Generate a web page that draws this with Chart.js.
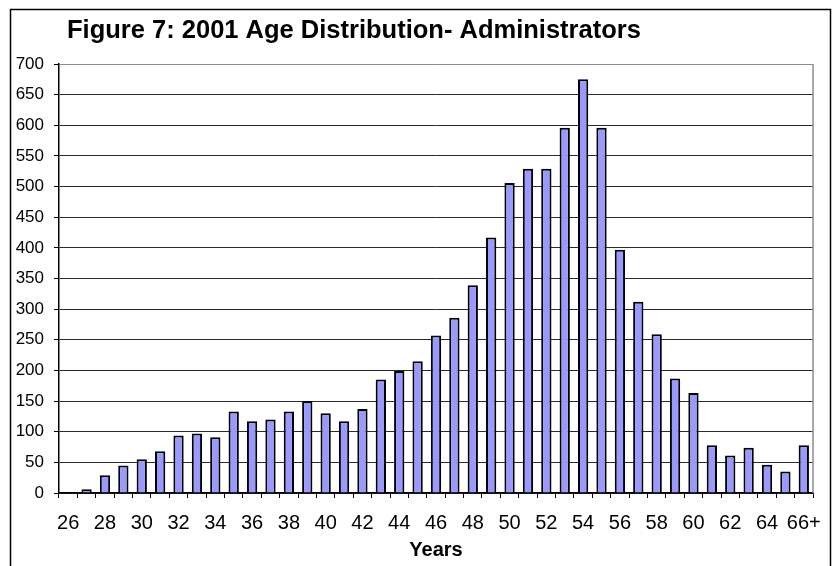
<!DOCTYPE html>
<html>
<head>
<meta charset="utf-8">
<script src="https://cdn.jsdelivr.net/npm/chart.js@4"></script>
<style>
  html, body { margin: 0; padding: 0; background: #fff; }
  #wrap { width: 837px; height: 566px; }
</style>
</head>
<body>
<div id="wrap"><canvas id="ageChart" width="837" height="566"></canvas></div>
<script>
// Figure 7 - 2001 age distribution, administrators
const chartTitle = 'Figure 7: 2001 Age Distribution- Administrators';
const xTitle = 'Years';

const ages = ['26','27','28','29','30','31','32','33','34','35',
              '36','37','38','39','40','41','42','43','44','45',
              '46','47','48','49','50','51','52','53','54','55',
              '56','57','58','59','60','61','62','63','64','65','66+'];

const counts = [0, 6, 29, 45, 55, 68, 94, 97, 91, 133,
                117, 120, 133, 150, 130, 117, 137, 185, 199, 215,
                257, 286, 339, 417, 506, 529, 529, 596, 675, 596,
                397, 312, 259, 187, 163, 78, 61, 74, 46, 35, 78];

const yMax = 700;
const yStep = 50;

const FONT = "'Liberation Sans', Arial, sans-serif";

// outer frame, plot border and the title
const frame = {
    id: 'frame',
    beforeDraw(chart) {
        const ctx = chart.ctx;
        ctx.save();
        ctx.fillStyle = '#fff';
        ctx.fillRect(0, 0, chart.width, chart.height);
        ctx.strokeStyle = '#000';
        ctx.lineWidth = 1.5;
        ctx.strokeRect(10.5, 9.5, 820, 620);
        ctx.restore();
    },
    beforeDatasetsDraw(chart) {
        const a = chart.chartArea;
        const ctx = chart.ctx;
        ctx.save();
        ctx.strokeStyle = '#8c8c8c';
        ctx.lineWidth = 1.5;
        ctx.beginPath();
        ctx.moveTo(a.right, a.top);
        ctx.lineTo(a.right, a.bottom);
        ctx.stroke();
        ctx.restore();
    },
    afterDraw(chart) {
        const ctx = chart.ctx;
        ctx.save();
        ctx.fillStyle = '#000';
        ctx.font = `bold 25.5px ${FONT}`;
        ctx.textAlign = 'left';
        ctx.textBaseline = 'alphabetic';
        ctx.fillText(chartTitle, 67, 38);
        ctx.restore();
    }
};

new Chart(document.getElementById('ageChart'), {
    type: 'bar',
    data: {
        labels: ages,
        datasets: [{
            data: counts,
            backgroundColor: '#9999ff',
            borderColor: '#000',
            borderWidth: 2,
            borderSkipped: 'bottom',
            barPercentage: 0.56,
            categoryPercentage: 1
        }]
    },
    options: {
        responsive: false,
        animation: false,
        layout: { padding: { left: 10, right: 24, top: 64, bottom: 0 } },
        plugins: {
            legend: { display: false },
            title: { display: false },
            tooltip: { enabled: false }
        },
        scales: {
            x: {
                grid: {
                    offset: true,
                    drawOnChartArea: false,
                    drawTicks: true,
                    tickLength: 5,
                    tickColor: '#000'
                },
                border: { color: '#000', width: 1.5 },
                ticks: {
                    autoSkip: false,
                    maxRotation: 0,
                    color: '#000',
                    padding: 13,
                    font: { family: FONT, size: 20 },
                    callback(v, i) { return i % 2 === 0 ? ages[i] : ''; }
                },
                title: {
                    display: true,
                    text: xTitle,
                    color: '#000',
                    font: { family: FONT, size: 20, weight: 'bold', lineHeight: 1.2 },
                    padding: { top: 0, bottom: 4 }
                },
                afterFit(scale) { scale.height = 73; }
            },
            y: {
                min: 0,
                max: yMax,
                grid: {
                    color: ctx => (ctx.tick && ctx.tick.value === yMax) ? '#8c8c8c' : '#2a2a2a',
                    lineWidth: 1,
                    tickLength: 5,
                    tickColor: '#000'
                },
                border: { color: '#000', width: 1.5 },
                ticks: {
                    stepSize: yStep,
                    color: '#000',
                    padding: 10,
                    font: { family: FONT, size: 17 }
                },
                afterFit(scale) { scale.width = 49; }
            }
        }
    },
    plugins: [frame]
});
</script>
</body>
</html>
